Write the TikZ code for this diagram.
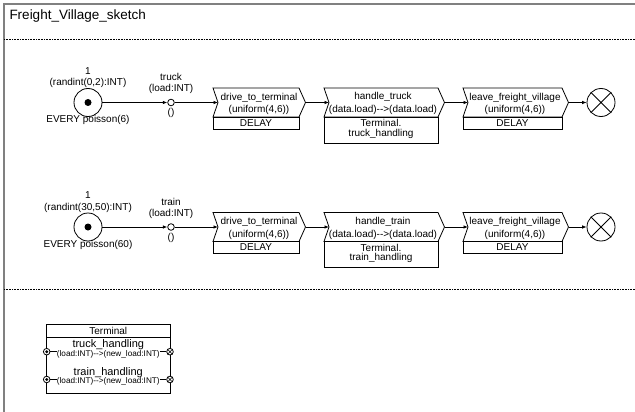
\documentclass[tikz,border=0pt]{standalone}
\usepackage{fontspec}
\setmainfont{Liberation Sans}
\usetikzlibrary{arrows.meta}
\tikzset{
  lbl/.style={font=\fontsize{10}{12}\selectfont, inner sep=0pt},
  tiny/.style={font=\fontsize{8.2}{9}\selectfont, inner sep=0pt},
  mname/.style={font=\fontsize{11}{12}\selectfont, inner sep=0pt},
  boxline/.style={draw=black, line width=0.8pt, fill=white},
  rectbox/.style={draw=black, line width=0.8pt, fill=white, inner sep=0pt},
  arr/.style={draw, line width=0.8pt, -{Latex[length=4.5pt,width=3.6pt]}},
  gen/.style={circle, draw, line width=0.8pt, minimum size=28pt, inner sep=0pt},
  gendot/.style={circle, fill=black, minimum size=7pt, inner sep=0pt},
  place/.style={circle, draw, line width=0.8pt, fill=white, minimum size=6.6pt, inner sep=0pt},
  sinkc/.style={circle, draw, line width=0.8pt, minimum size=28pt, inner sep=0pt},
  sep/.style={line width=0.8pt, dash pattern=on 0.8pt off 0.8pt},
  frame/.style={draw=black!50, line width=1.6pt},
}
% name, x1, x2, ytop, ybot
\newcommand\chevbox[5]{%
  \draw[boxline] (#2,#4) -- (#3,#4) -- ({#3+6.5},{(#4+#5)/2}) -- (#3,#5) -- (#2,#5) -- ({#2+5},{(#4+#5)/2}) -- cycle;
  \coordinate (#1-in) at ({#2+5},{(#4+#5)/2});
  \coordinate (#1-out) at ({#3+6.5},{(#4+#5)/2});
}
\newcommand\arrowtxt{-\kern0pt-\kern0pt>}
\begin{document}
\begin{tikzpicture}[x=1pt,y=-1pt]
\useasboundingbox (0,0) rectangle (635,412);
\fill[white] (0,0) rectangle (635,412);
% frame
\draw[frame] (4,412) -- (4,4.3) -- (635,4.3);
\node[anchor=base west, inner sep=0pt, font=\fontsize{13.5}{15}\selectfont] (title) at (9.3,20) {Freight\_Village\_sketch};
\draw[sep] (4,39.3) -- (635,39.3);
\draw[sep] (4,289.3) -- (635,289.3);

% ===== Row 1 =====
\node[lbl] (g1n) at (88,71) {1};
\node[lbl] (g1t) at (88,83) {(randint(0,2):INT)};
\node[gen] (g1) at (88,102.5) {};
\node[gendot] (g1d) at (88,102.5) {};
\node[lbl] (g1e) at (88,120) {EVERY poisson(6)};
\node[lbl] (p1n) at (171,77) {truck};
\node[lbl] (p1t) at (171,89) {(load:INT)};
\node[place] (p1) at (171,102.5) {};
\node[lbl] (p1b) at (171,113) {()};
\chevbox{d1}{213}{299}{88}{117}
\node[lbl] (d1a) at (259,97.5) {drive\_to\_terminal};
\node[lbl] (d1b) at (259,110) {(uniform(4,6))};
\node[rectbox, minimum width=86pt, minimum height=12pt] (d1r) at (256,123) {};
\node[lbl] (d1c) at (256,123) {DELAY};
\chevbox{h1}{324}{438}{88}{117}
\node[lbl] (h1a) at (383,97) {handle\_truck};
\node[lbl] (h1b) at (383,110) {(data.load)\arrowtxt(data.load)};
\node[rectbox, minimum width=114pt, minimum height=26pt] (h1r) at (381,130) {};
\node[lbl] (h1c) at (381,123) {Terminal.};
\node[lbl] (h1d) at (381,133.5) {truck\_handling};
\chevbox{l1}{463}{562}{88}{117}
\node[lbl] (l1a) at (515,97.5) {leave\_freight\_village};
\node[lbl] (l1b) at (515,110) {(uniform(4,6))};
\node[rectbox, minimum width=99pt, minimum height=12pt] (l1r) at (512.5,123) {};
\node[lbl] (l1c) at (512.5,123) {DELAY};
\node[sinkc] (s1) at (601,102.5) {};
\draw[line width=0.8pt] (s1.north east) -- (s1.south west) (s1.north west) -- (s1.south east);
\draw[arr] (g1) -- (p1);
\draw[arr] (p1) -- (d1-in);
\draw[arr] (d1-out) -- (h1-in);
\draw[arr] (h1-out) -- (l1-in);
\draw[arr] (l1-out) -- (s1);

% ===== Row 2 =====
\node[lbl] (g2n) at (88,195.5) {1};
\node[lbl] (g2t) at (88,207.5) {(randint(30,50):INT)};
\node[gen] (g2) at (88,227) {};
\node[gendot] (g2d) at (88,227) {};
\node[lbl] (g2e) at (88,244.5) {EVERY poisson(60)};
\node[lbl] (p2n) at (171,201.5) {train};
\node[lbl] (p2t) at (171,213.5) {(load:INT)};
\node[place] (p2) at (171,227) {};
\node[lbl] (p2b) at (171,237.5) {()};
\chevbox{d2}{213}{299}{212.5}{241.5}
\node[lbl] (d2a) at (259,222) {drive\_to\_terminal};
\node[lbl] (d2b) at (259,234.5) {(uniform(4,6))};
\node[rectbox, minimum width=86pt, minimum height=12pt] (d2r) at (256,247.5) {};
\node[lbl] (d2c) at (256,247.5) {DELAY};
\chevbox{h2}{324}{438}{212.5}{241.5}
\node[lbl] (h2a) at (383,221.5) {handle\_train};
\node[lbl] (h2b) at (383,234.5) {(data.load)\arrowtxt(data.load)};
\node[rectbox, minimum width=114pt, minimum height=26pt] (h2r) at (381,254.5) {};
\node[lbl] (h2c) at (381,247.5) {Terminal.};
\node[lbl] (h2d) at (381,258) {train\_handling};
\chevbox{l2}{463}{562}{212.5}{241.5}
\node[lbl] (l2a) at (515,222) {leave\_freight\_village};
\node[lbl] (l2b) at (515,234.5) {(uniform(4,6))};
\node[rectbox, minimum width=99pt, minimum height=12pt] (l2r) at (512.5,247.5) {};
\node[lbl] (l2c) at (512.5,247.5) {DELAY};
\node[sinkc] (s2) at (601,227) {};
\draw[line width=0.8pt] (s2.north east) -- (s2.south west) (s2.north west) -- (s2.south east);
\draw[arr] (g2) -- (p2);
\draw[arr] (p2) -- (d2-in);
\draw[arr] (d2-out) -- (h2-in);
\draw[arr] (h2-out) -- (l2-in);
\draw[arr] (l2-out) -- (s2);

% ===== Terminal =====
\draw[line width=0.8pt] (46.7,324) rectangle (170,393);
\draw[line width=0.8pt] (46.7,337.3) -- (170,337.3);
\node[lbl] (tt) at (108.3,330.7) {Terminal};
\node[mname] (m1) at (108.3,344.2) {truck\_handling};
\node[tiny] (m1s) at (108.3,354.3) {(load:INT)\arrowtxt(new\_load:INT)};
\node[mname] (m2) at (108.3,372.2) {train\_handling};
\node[tiny] (m2s) at (108.3,381.8) {(load:INT)\arrowtxt(new\_load:INT)};
\node[place] (t1l) at (46.7,351.7) {};
\node[gendot, minimum size=3.2pt] (t1ld) at (46.7,351.7) {};
\node[place] (t1r) at (170,351.7) {};
\draw[line width=0.6pt] (t1r.north east) -- (t1r.south west) (t1r.north west) -- (t1r.south east);
\node[place] (t2l) at (46.7,379.5) {};
\node[gendot, minimum size=3.2pt] (t2ld) at (46.7,379.5) {};
\node[place] (t2r) at (170,379.5) {};
\draw[line width=0.6pt] (t2r.north east) -- (t2r.south west) (t2r.north west) -- (t2r.south east);
\draw[line width=0.8pt] (t1l) -- (t1l -| m1s.west);
\draw[line width=0.8pt] (m1s.east |- t1r) -- (t1r);
\draw[line width=0.8pt] (t2l) -- (t2l -| m2s.west);
\draw[line width=0.8pt] (m2s.east |- t2r) -- (t2r);
\end{tikzpicture}
\end{document}
